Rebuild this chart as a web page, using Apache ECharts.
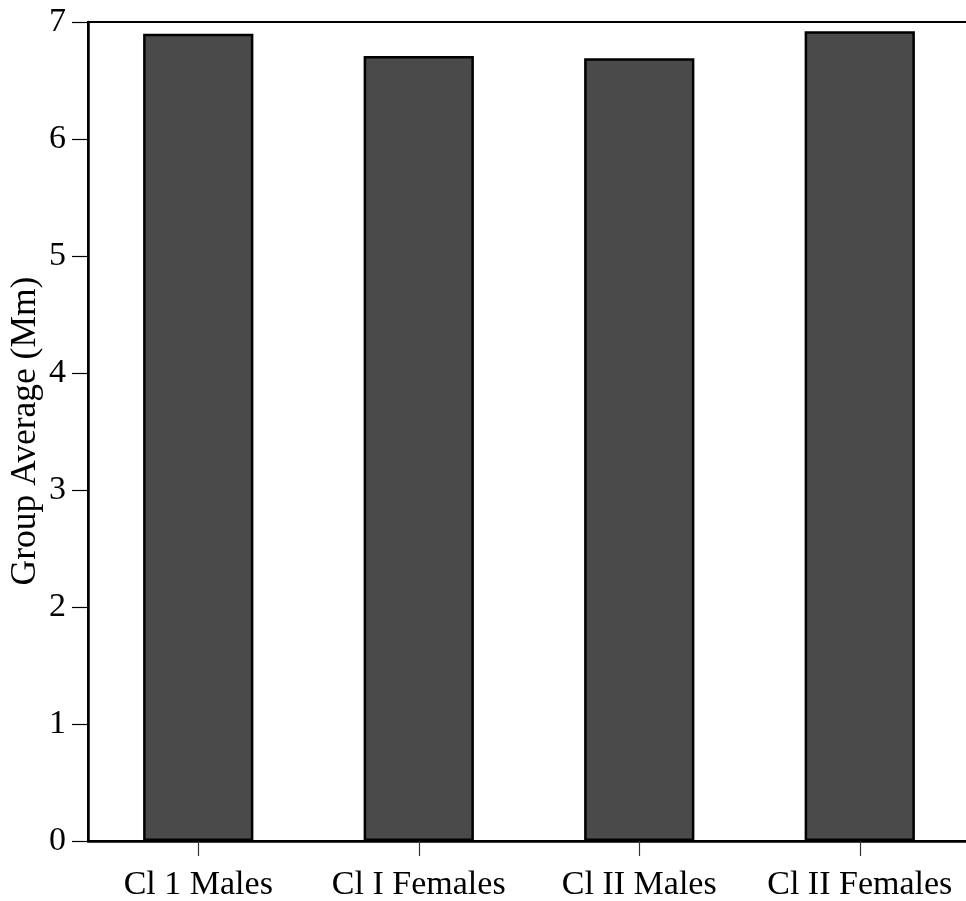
<!DOCTYPE html>
<html>
<head>
<meta charset="utf-8">
<script src="https://cdn.jsdelivr.net/npm/echarts@6/dist/echarts.min.js"></script>
<style>html,body{margin:0;padding:0;background:#fff;}#c{width:966px;height:901px;}</style>
</head>
<body>
<div id="c"></div>
<script>
const categories = ['Cl 1 Males', 'Cl I Females', 'Cl II Males', 'Cl II Females'];
const groupAverage = [6.90, 6.71, 6.69, 6.92];
const yTicks = [0, 1, 2, 3, 4, 5, 6, 7];
const yTitle = 'Group Average (Mm)';

const FONT = '"Liberation Serif", serif';
const chart = echarts.init(document.getElementById('c'), null, {renderer: 'canvas'});
chart.setOption({
  animation: false,
  backgroundColor: '#fff',
  grid: {left: 88, top: 22, width: 882, height: 819, outerBoundsMode: 'none', containLabel: false,
         show: true, borderColor: '#000', borderWidth: 2, backgroundColor: 'transparent'},
  graphic: [{
    type: 'text',
    x: 26, y: 431,
    rotation: Math.PI / 2,
    style: {text: yTitle, fill: '#000', font: '35.5px "Liberation Serif", serif', align: 'center', verticalAlign: 'middle'}
  }],
  xAxis: {
    type: 'category',
    data: categories,
    axisLine: {lineStyle: {color: '#000', width: 2.5}},
    axisTick: {show: true, alignWithLabel: true, length: 15, lineStyle: {color: '#333', width: 1.2}},
    axisLabel: {color: '#000', fontFamily: FONT, fontSize: 34, margin: 27, interval: 0}
  },
  yAxis: {
    type: 'value',
    min: yTicks[0], max: yTicks[yTicks.length - 1], interval: 1,
    axisLine: {show: true, lineStyle: {color: '#000', width: 2.5}},
    axisTick: {show: true, length: 16, lineStyle: {color: '#000', width: 1.2}},
    splitLine: {show: false},
    axisLabel: {color: '#000', fontFamily: FONT, fontSize: 34, margin: 22}
  },
  series: [{
    type: 'bar',
    data: groupAverage,
    barWidth: '50%',
    itemStyle: {color: '#4a4a4a', borderColor: '#000', borderWidth: 2.5}
  }]
});
</script>
</body>
</html>
